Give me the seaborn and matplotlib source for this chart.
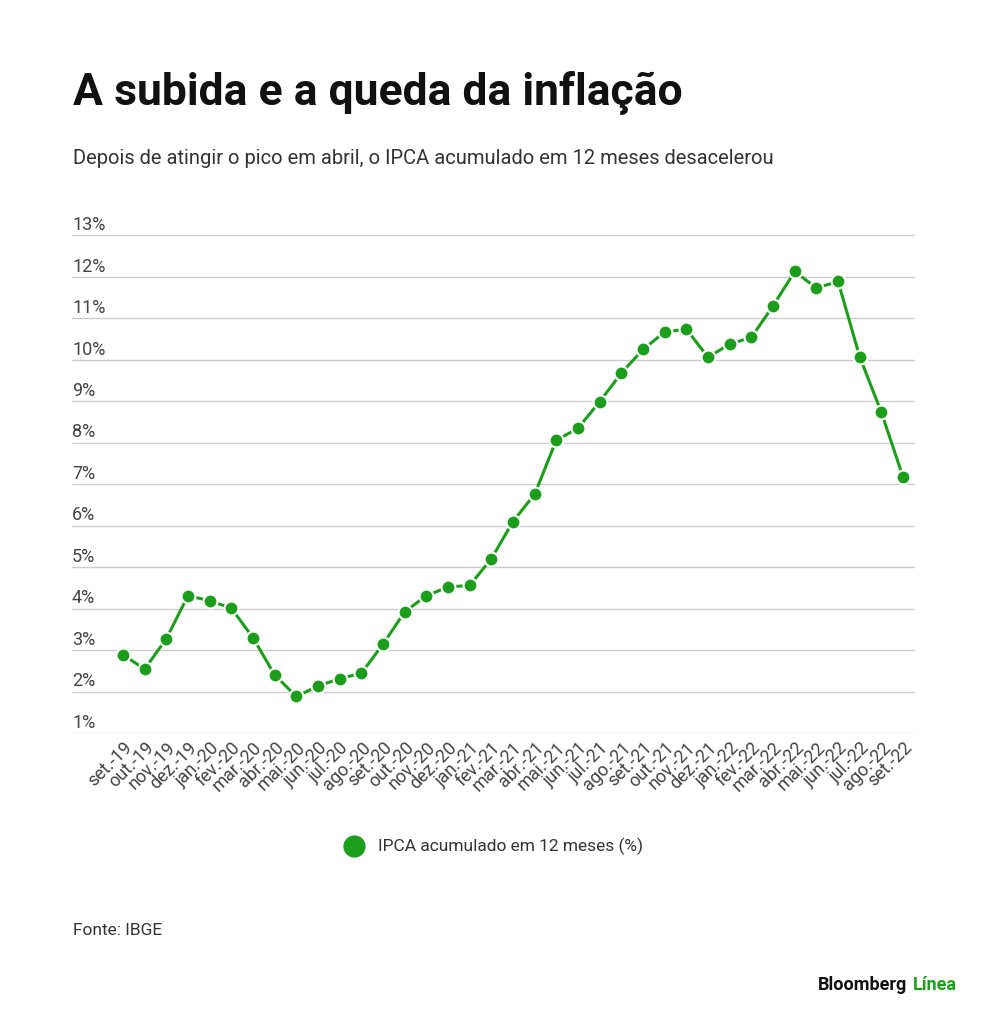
import numpy as np
import pandas as pd
import seaborn as sns
import matplotlib.pyplot as plt
import matplotlib.transforms as mtransforms

# IPCA acumulado em 12 meses (%)
meses = ["set.-19", "out.-19", "nov.-19", "dez.-19", "jan.-20", "fev.-20", "mar.-20", "abr.-20",
         "mai.-20", "jun.-20", "jul.-20", "ago.-20", "set.-20", "out.-20", "nov.-20", "dez.-20",
         "jan.-21", "fev.-21", "mar.-21", "abr.-21", "mai.-21", "jun.-21", "jul.-21", "ago.-21",
         "set.-21", "out.-21", "nov.-21", "dez.-21", "jan.-22", "fev.-22", "mar.-22", "abr.-22",
         "mai.-22", "jun.-22", "jul.-22", "ago.-22", "set.-22"]
ipca = [2.89, 2.54, 3.27, 4.31, 4.19, 4.01, 3.30, 2.40, 1.88, 2.13, 2.31, 2.44, 3.14,
        3.92, 4.31, 4.52, 4.56, 5.20, 6.10, 6.76, 8.06, 8.35, 8.99, 9.68, 10.25, 10.67,
        10.74, 10.06, 10.38, 10.54, 11.30, 12.13, 11.73, 11.89, 10.07, 8.73, 7.17]
df = pd.DataFrame({"mes": meses, "ipca": ipca, "i": np.arange(len(meses))})

sns.set_theme(style="white")
plt.rcParams['font.family'] = ['Roboto', 'DejaVu Sans']
green = "#1c9e1c"

fig = plt.figure(figsize=(10, 10.28), dpi=100)
ax = fig.add_axes([0.072, 0.287, 0.843, 0.484])

sns.lineplot(data=df, x="i", y="ipca", ax=ax, color=green, lw=2.2,
             marker="o", markersize=10, markeredgecolor="white", markeredgewidth=1.5)

ax.set_xlim(-2.35, 36.55)
ax.set_ylim(1, 13)
for v in range(1, 14):
    ax.axhline(v, color="#cccccc", lw=1, zorder=0)
    ax.text(0, v + 0.03, f"{v}%", transform=mtransforms.blended_transform_factory(ax.transAxes, ax.transData),
            fontsize=13, color="#444444", va="bottom", ha="left")
ax.set_yticks([])
ax.set_xticks(df.i)
ax.set_xticklabels(df.mes, rotation=45, ha="right", rotation_mode="anchor", fontsize=13, color="#444444")
ax.tick_params(axis="x", length=0, pad=4)
ax.set_xlabel("")
ax.set_ylabel("")
for s in ax.spines.values():
    s.set_visible(False)

fig.text(0.073, 0.898, "A subida e a queda da inflação", fontsize=32, fontweight="bold", color="#111111")
fig.text(0.073, 0.84, "Depois de atingir o pico em abril, o IPCA acumulado em 12 meses desacelerou",
         fontsize=14.5, color="#333333")

fig.lines.append(plt.Line2D([0.354], [0.177], marker="o", markersize=15, color=green, transform=fig.transFigure))
fig.text(0.378, 0.177, "IPCA acumulado em 12 meses (%)", fontsize=12.5, color="#333333", va="center")

fig.text(0.073, 0.095, "Fonte: IBGE", fontsize=12.5, color="#333333", va="center")
fig.text(0.818, 0.042, "Bloomberg", fontsize=13, fontweight="bold", color="#111111", va="center")
fig.text(0.913, 0.042, "Línea", fontsize=13, fontweight="bold", color=green, va="center")

fig.savefig("out.png", dpi=100, facecolor="white")
